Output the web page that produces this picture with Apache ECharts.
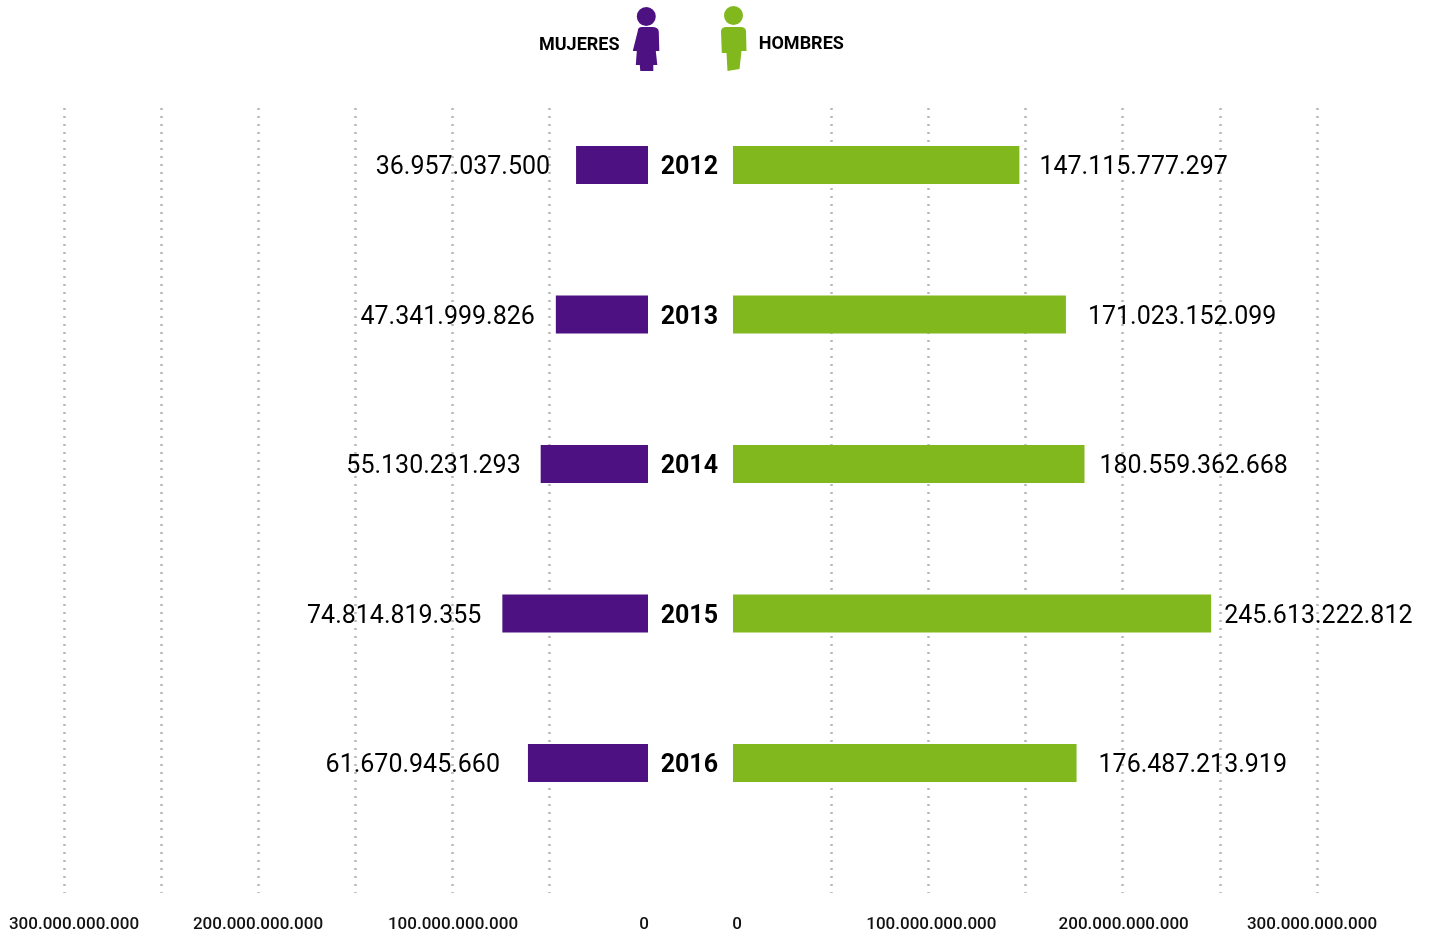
<!DOCTYPE html>
<html>
<head>
<meta charset="utf-8">
<title>Mujeres y hombres 2012-2016</title>
<style>
  html, body { margin: 0; padding: 0; background: #fff; }
  #chart { width: 1429px; height: 940px; }
</style>
<script src="https://cdn.jsdelivr.net/npm/echarts@6/dist/echarts.min.js"></script>
</head>
<body>
<div id="chart"></div>
<script>
const years = ['2012', '2013', '2014', '2015', '2016']
const mujeres = [36957037500, 47341999826, 55130231293, 74814819355, 61670945660]
const hombres = [147115777297, 171023152099, 180559362668, 245613222812, 176487213919]
const tickValues = [0, 100000000000, 200000000000, 300000000000]

// distance from bar end to its label, the reference places them by hand
const mujeresGap = [26, 21, 20, 21, 28]
const hombresGap = [20, 22, 15, 13, 22]
// sideways nudge of tick labels, by tick
const leftShift = [-2, 1, 0, 10]
const rightShift = [3, 3, 1, -5]

const purple = '#4d1181'
const green = '#80b81d'
const womanIcon = 'path://M13.5 0A9.5 9.5 0 1 1 13.49 0ZM5 24Q5 20 9 20L19 20Q26 20 26 25L26.5 44L23 44L24.5 58L20.5 58L20.5 64L7.5 64L7 58L3 58L4 44L0 44Z'
const manIcon = 'path://M13 0A9.5 9.5 0 1 1 12.99 0ZM0.5 25Q1 21 6 21L20 21Q25 21 25.5 25L26 45L21 45L19 63L7 65L6 47L1.3 47Z'

const fmt = function(v) {
  return String(v).replace(/\B(?=(\d{3})+(?!\d))/g, '.')
}

function tickRich(shifts) {
  const rich = {}
  shifts.forEach(function(s, i) {
    rich['t' + i] = {
      fontFamily: 'Roboto',
      fontSize: 17,
      fontWeight: 500,
      color: '#111',
      padding: s > 0 ? [0, 0, 0, s * 2] : [0, -s * 2, 0, 0]
    }
  })
  return rich
}

function legendText(padding) {
  return {
    padding: padding,
    rich: {
      a: {
        fontFamily: 'Roboto',
        fontSize: 18,
        fontWeight: 700,
        color: '#000',
        padding: [12, 0, 0, 0]
      }
    }
  }
}

function gridAxis(gridIndex, inverse, shifts) {
  return {
    type: 'value',
    gridIndex: gridIndex,
    inverse: inverse,
    min: 0,
    max: 300000000000,
    interval: 50000000000,
    axisLine: { show: false },
    axisTick: { show: false },
    splitLine: {
      show: true,
      showMinLine: false,
      lineStyle: { color: '#b8b8b8', type: [2, 6], width: 2.5 }
    },
    axisLabel: {
      show: true,
      margin: 23,
      customValues: tickValues,
      hideOverlap: false,
      formatter: function(v) {
        return '{t' + tickValues.indexOf(v) + '|' + fmt(v) + '}'
      },
      rich: tickRich(shifts)
    }
  }
}

function barAxis(gridIndex, inverse) {
  return {
    type: 'value',
    gridIndex: gridIndex,
    inverse: inverse,
    min: 0,
    max: 300000000000,
    show: false
  }
}

function catAxis(gridIndex, showYears) {
  return {
    type: 'category',
    gridIndex: gridIndex,
    inverse: true,
    data: years,
    axisLine: { show: false },
    axisTick: { show: false },
    axisLabel: {
      show: showYears,
      margin: 15,
      formatter: '{y|{value}}',
      rich: {
        y: {
          fontFamily: 'Roboto',
          fontSize: 25,
          fontWeight: 700,
          color: '#000',
          padding: [6, 0, 0, 0]
        }
      }
    }
  }
}

function barSeries(name, values, gaps, color, axisIndex, side) {
  return {
    name: name,
    type: 'bar',
    xAxisIndex: axisIndex,
    yAxisIndex: axisIndex,
    barWidth: 38,
    itemStyle: { color: color },
    data: values.map(function(v, i) {
      return {
        value: v,
        label: {
          show: true,
          position: side,
          distance: gaps[i],
          offset: [0, 3],
          formatter: fmt(v),
          fontFamily: 'Roboto',
          fontSize: 25,
          fontWeight: 400,
          color: '#000'
        }
      }
    })
  }
}

const chart = echarts.init(document.getElementById('chart'))
chart.setOption({
  backgroundColor: '#fff',
  animation: false,
  legend: [{
    data: [{ name: 'MUJERES', icon: womanIcon }],
    left: 534,
    top: 2,
    align: 'right',
    itemWidth: 27,
    itemHeight: 64,
    selectedMode: false,
    formatter: '{a|{name}}',
    textStyle: legendText([0, 8, 0, 0])
  }, {
    data: [{ name: 'HOMBRES', icon: manIcon }],
    left: 716,
    top: 1,
    align: 'left',
    itemWidth: 26,
    itemHeight: 65,
    selectedMode: false,
    formatter: '{a|{name}}',
    textStyle: legendText([0, 0, 0, 7])
  }],
  grid: [
    { left: 64, width: 584, top: 90.25, height: 747.5 },
    { left: 733, width: 584, top: 90.25, height: 747.5 },
    { left: 64, width: 582, top: 108, height: 785 },
    { left: 734, width: 583, top: 108, height: 785 }
  ],
  xAxis: [
    barAxis(0, true),
    barAxis(1, false),
    gridAxis(2, true, leftShift),
    gridAxis(3, false, rightShift)
  ],
  yAxis: [
    catAxis(0, false),
    catAxis(1, true),
    { type: 'category', gridIndex: 2, show: false, data: years },
    { type: 'category', gridIndex: 3, show: false, data: years }
  ],
  series: [
    barSeries('MUJERES', mujeres, mujeresGap, purple, 0, 'left'),
    barSeries('HOMBRES', hombres, hombresGap, green, 1, 'right')
  ]
})
</script>
</body>
</html>
